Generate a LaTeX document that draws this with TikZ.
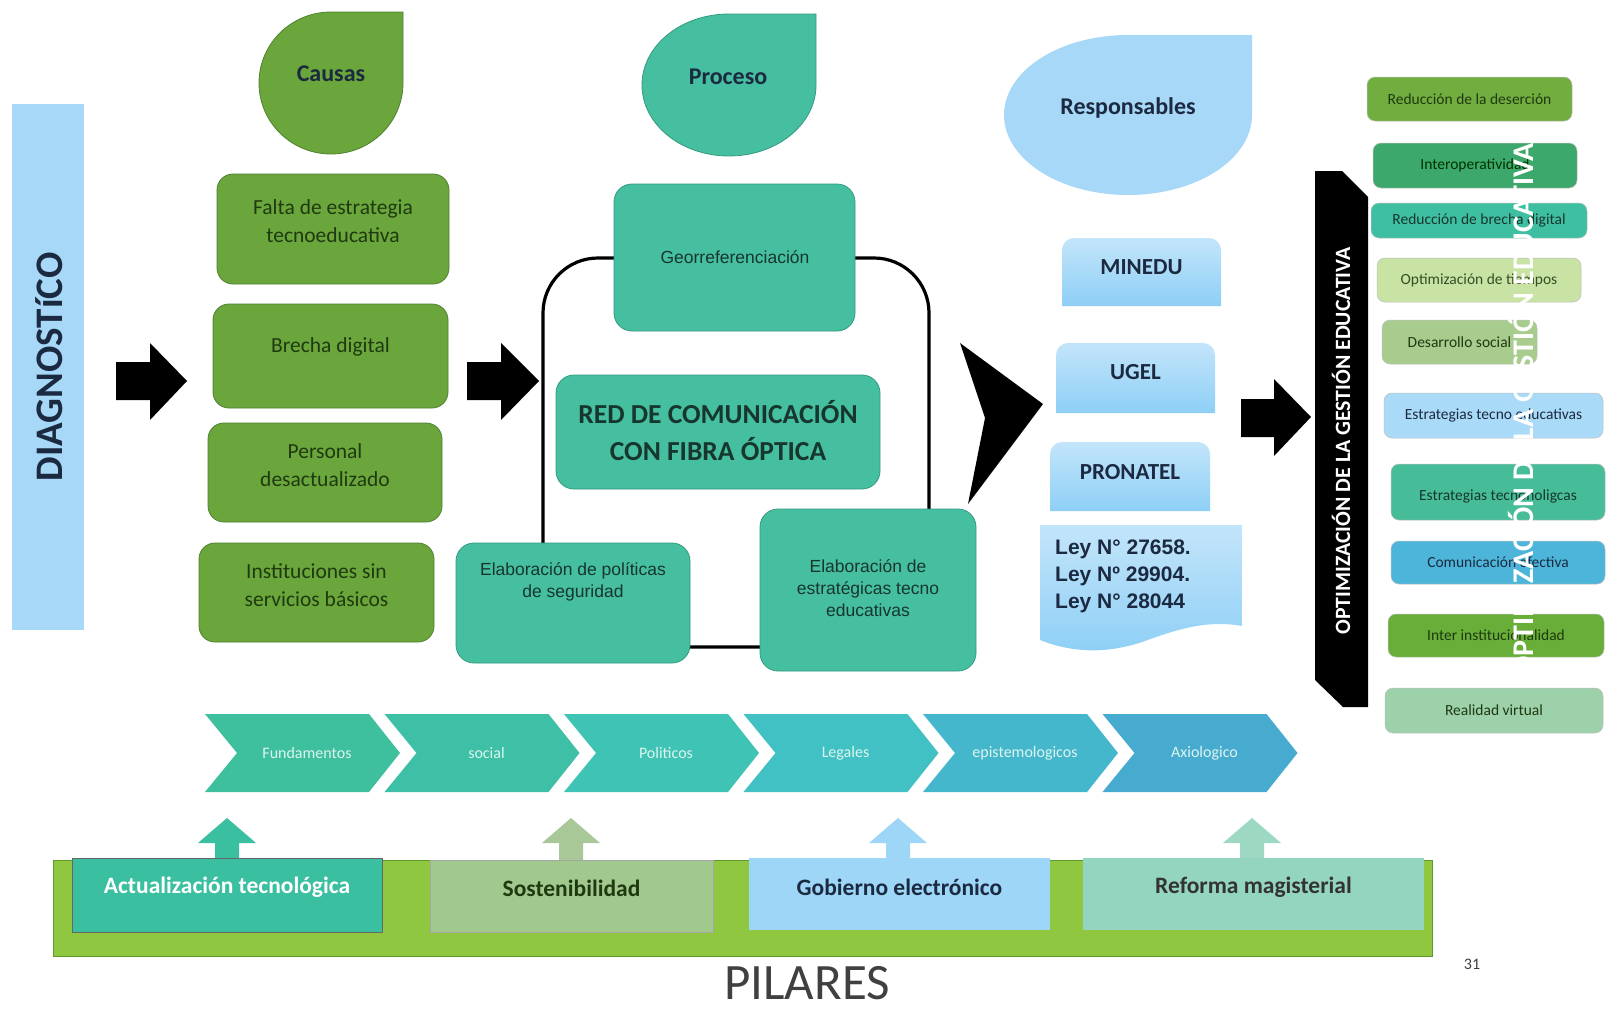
\documentclass[tikz,border=0pt]{standalone}
\usepackage{fontspec}
\setmainfont{Carlito}
\newfontfamily\arialf{Liberation Sans}
\definecolor{causeG}{HTML}{6AA63B}
\definecolor{causeB}{HTML}{4F8030}
\definecolor{causeT}{HTML}{1F3A10}
\definecolor{procG}{HTML}{45BF9F}
\definecolor{procB}{HTML}{329A80}
\definecolor{procT}{HTML}{17362E}
\definecolor{lblue}{HTML}{A7D8F7}
\definecolor{lblueT}{HTML}{C3E5FA}
\definecolor{lblueB}{HTML}{8ECFF6}
\definecolor{navy}{HTML}{1B2A40}
\definecolor{rA}{HTML}{72AD3F}
\definecolor{rB}{HTML}{3DA86C}
\definecolor{rC}{HTML}{3FBFA2}
\definecolor{rD}{HTML}{C8E3A3}
\definecolor{rE}{HTML}{A8CC8E}
\definecolor{rF}{HTML}{A9DAF8}
\definecolor{rG}{HTML}{46BD98}
\definecolor{rH}{HTML}{4DB5DA}
\definecolor{rI}{HTML}{68AE38}
\definecolor{rJ}{HTML}{9CD1AA}
\definecolor{chA}{HTML}{3EBF9E}
\definecolor{chB}{HTML}{3EC0A6}
\definecolor{chC}{HTML}{3FC3B5}
\definecolor{chD}{HTML}{41C1C4}
\definecolor{chE}{HTML}{44B7CD}
\definecolor{chF}{HTML}{47ABCF}
\definecolor{chT}{HTML}{DDF5EE}
\definecolor{band}{HTML}{8FC740}
\definecolor{bandB}{HTML}{5E9A2A}
\definecolor{pA}{HTML}{3BBFA1}
\definecolor{pB}{HTML}{A1C98D}
\definecolor{pC}{HTML}{9DD6F7}
\definecolor{pD}{HTML}{93D5BF}
\definecolor{upB}{HTML}{A8C898}
\definecolor{upD}{HTML}{9CD8C2}
\begin{document}
\begin{tikzpicture}[x=1pt,y=-1pt,
  causebox/.style={draw=causeB, line width=0.8pt, fill=causeG, rounded corners=16pt, inner sep=0pt},
  causetxt/.style={text=causeT, font=\fontsize{21.5}{28.5}\selectfont, align=center},
  procbox/.style={draw=procB, line width=0.8pt, fill=procG, rounded corners=18pt, inner sep=0pt},
  proctxt/.style={text=procT, font=\arialf\fontsize{17.5}{22}\selectfont, align=center},
  headtxt/.style={font=\bfseries\fontsize{24}{28}\selectfont, text=navy},
  blk/.style={fill=black},
  respbox/.style={top color=lblueT, bottom color=lblueB},
  resptxt/.style={font=\bfseries\fontsize{23}{26}\selectfont, text=navy},
  rbox/.style={rounded corners=8pt, inner sep=0pt, draw=black!25, line width=0.5pt},
  rtxt/.style={font=\fontsize{15.5}{17}\selectfont},
  chevtxt/.style={font=\fontsize{16}{18}\selectfont, text=chT},
  pillar/.style={inner sep=0pt, draw=black!35, line width=0.6pt},
  piltxt/.style={font=\bfseries\fontsize{23.5}{25}\selectfont}
]
\useasboundingbox[fill=white] (0,0) rectangle (1606,1009);

% ---------- DIAGNOSTICO ----------
\fill[lblue] (12,104) rectangle (84,630);
\node[rotate=90, text=navy, font=\bfseries\fontsize{39}{40}\selectfont] (diag) at (49,367) {DIAGNOSTíCO};

% ---------- arrows ----------
\path[blk] (116,362) -- (150,362) -- (150,343) -- (187,381) -- (150,420) -- (150,400) -- (116,400) -- cycle;
\path[blk] (467,362) -- (501,362) -- (501,343) -- (539,381) -- (501,420) -- (501,400) -- (467,400) -- cycle;
\path[blk] (960,343) -- (1043,404) -- (968,504) -- (985,418) -- cycle;
\path[blk] (1241,399) -- (1274,399) -- (1274,379) -- (1311,417) -- (1274,456) -- (1274,437) -- (1241,437) -- cycle;

% ---------- Causas ----------
\path[fill=causeG, draw=causeB, line width=0.8pt] (403,83) arc[start angle=0, end angle=270, x radius=72, y radius=71] -- (403,12) -- cycle;
\node[headtxt] (causas) at (331,74) {Causas};
\node[causebox, minimum width=232pt, minimum height=110pt] (c1box) at (333,229) {};
\node[causetxt] (c1) at (333,221) {Falta de estrategia\\tecnoeducativa};
\node[causebox, minimum width=235pt, minimum height=104pt] (c2box) at (330.5,356) {};
\node[causetxt] (c2) at (330.5,347) {Brecha digital};
\node[causebox, minimum width=234pt, minimum height=99pt] (c3box) at (325,472.5) {};
\node[causetxt] (c3) at (325,465) {Personal\\desactualizado};
\node[causebox, minimum width=235pt, minimum height=99pt] (c4box) at (316.5,592.5) {};
\node[causetxt] (c4) at (316.5,585) {Instituciones sin\\servicios básicos};

% ---------- Proceso ----------
\path[fill=procG, draw=procB, line width=0.8pt] (816,85) arc[start angle=0, end angle=270, x radius=87, y radius=71] -- (816,14) -- cycle;
\node[headtxt] (proceso) at (728,77) {Proceso};
\draw[line width=3.2pt, rounded corners=55pt] (543,647) rectangle (929,258);
\node[procbox, minimum width=241pt, minimum height=147pt] (geo) at (734.5,257.5) {};
\node[proctxt] (geot) at (735,257) {Georreferenciación};
\node[procbox, minimum width=324pt, minimum height=114pt] (red) at (718,432) {};
\node[font=\bfseries\fontsize{27.5}{37}\selectfont, text=procT, align=center] (redt) at (718,431) {RED DE COMUNICACIÓN\\CON FIBRA ÓPTICA};
\node[procbox, minimum width=234pt, minimum height=120pt] (pol) at (573,603) {};
\node[proctxt] (polt) at (573,582) {Elaboración de políticas\\de seguridad};
\node[procbox, minimum width=216pt, minimum height=162pt] (est) at (868,590) {};
\node[proctxt] (estt) at (868,588) {Elaboración de\\estratégicas tecno\\educativas};

% ---------- Responsables ----------
\path[fill=lblue] (1252,115) arc[start angle=0, end angle=270, x radius=124, y radius=80] -- (1252,35) -- cycle;
\node[headtxt] (resp) at (1128,108) {Responsables};
\path[respbox] (1062,306) -- (1062,250) arc[start angle=180, end angle=270, radius=12] -- (1209,238) arc[start angle=270, end angle=360, radius=12] -- (1221,306) -- cycle;
\node[resptxt] (minedu) at (1141.5,267) {MINEDU};
\path[respbox] (1056,413) -- (1056,355) arc[start angle=180, end angle=270, radius=12] -- (1203,343) arc[start angle=270, end angle=360, radius=12] -- (1215,413) -- cycle;
\node[resptxt] (ugel) at (1135.5,372) {UGEL};
\path[respbox] (1050,511) -- (1050,454) arc[start angle=180, end angle=270, radius=12] -- (1198,442) arc[start angle=270, end angle=360, radius=12] -- (1210,511) -- cycle;
\node[resptxt] (pronatel) at (1130,472) {PRONATEL};
\path[respbox] (1040,525) -- (1242,525) -- (1242,626) .. controls (1210,620) and (1180,628) .. (1145,641) .. controls (1105,655) and (1070,652) .. (1040,640) -- cycle;
\node[anchor=north west, align=left, inner sep=0pt, font=\arialf\bfseries\fontsize{21}{27}\selectfont, text=navy] (ley) at (1055,540) {Ley N° 27658.\\Ley Nº 29904.\\Ley N° 28044};

% ---------- black bar ----------
\path[blk] (1315,171) -- (1342,171) -- (1368,197) -- (1368,707) -- (1343,707) -- (1315,680) -- cycle;
\node[rotate=90, text=white, font=\bfseries\fontsize{21.8}{22}\selectfont] (opt) at (1341,441) {OPTIMIZACIÓN DE LA GESTIÓN EDUCATIVA};

% ---------- right column ----------
\node[rbox, fill=rA, minimum width=205pt, minimum height=44pt] (r1) at (1469.5,99) {};
\node[rtxt, text=causeT] at (r1) {Reducción de la deserción};
\node[rbox, fill=rB, minimum width=204pt, minimum height=45pt] (r2) at (1475,165.5) {};
\node[rtxt, text=black!80!green] at (r2) {Interoperatividad};
\node[rbox, fill=rC, minimum width=216pt, minimum height=35pt] (r3) at (1479,220.5) {};
\node[rtxt, text=procT] at (r3) {Reducción de brecha digital};
\node[rbox, fill=rD, minimum width=204pt, minimum height=44pt] (r4) at (1479,280) {};
\node[rtxt, text=causeT!90] at (r4) {Optimización de tiempos};
\node[rbox, fill=rE, minimum width=155pt, minimum height=44pt] (r5) at (1459.5,342) {};
\node[rtxt, text=causeT] at (r5) {Desarrollo social};
\node[rbox, fill=rF, minimum width=219pt, minimum height=45pt] (r6) at (1493.5,415.5) {};
\node[rtxt, text=navy] at (r6) {Estrategias tecno educativas};
\node[rbox, fill=rG, minimum width=214pt, minimum height=56pt] (r7) at (1498,492) {};
\node[rtxt, text=procT] at ([yshift=-4pt]r7.center) {Estrategias tecnonoligcas};
\node[rbox, fill=rH, minimum width=214pt, minimum height=43pt] (r8) at (1498,562.5) {};
\node[rtxt, text=navy] at (r8) {Comunicación efectiva};
\node[rbox, fill=rI, minimum width=216pt, minimum height=43pt] (r9) at (1496,635.5) {};
\node[rtxt, text=causeT] at (r9) {Inter institucionalidad};
\node[rbox, fill=rJ, minimum width=218pt, minimum height=45pt] (r10) at (1494,710.5) {};
\node[rtxt, text=causeT] at (r10) {Realidad virtual};

% ---------- chevrons ----------
\foreach \i/\t/\c in {0/Fundamentos/chA, 1/social/chB, 2/Politicos/chC, 3/Legales/chD, 4/epistemologicos/chE, 5/Axiologico/chF}{
  \pgfmathsetmacro\L{205+179.5*\i}
  \path[fill=\c] (\L,714) -- ({\L+164},714) -- ({\L+195},753) -- ({\L+164},792) -- (\L,792) -- ({\L+32},753) -- cycle;
  \node[chevtxt] (chev\i) at ({\L+102},753) {\t};
}

% ---------- pillars ----------
\draw[fill=band, draw=bandB, line width=0.8pt] (53,860) rectangle (1432,956);
\path[fill=pA] (227,818) -- (256,843) -- (239,843) -- (239,860) -- (215,860) -- (215,843) -- (198,843) -- cycle;
\path[fill=upB] (571,818) -- (600,843) -- (583,843) -- (583,860) -- (559,860) -- (559,843) -- (542,843) -- cycle;
\path[fill=pC] (898,818) -- (927,843) -- (910,843) -- (910,860) -- (886,860) -- (886,843) -- (869,843) -- cycle;
\path[fill=upD] (1252,818) -- (1281,843) -- (1264,843) -- (1264,860) -- (1240,860) -- (1240,843) -- (1223,843) -- cycle;
\node[pillar, fill=pA, draw=black!60, minimum width=310pt, minimum height=74pt] (p1) at (227,895) {};
\node[piltxt, text=white] at (227,887) {Actualización tecnológica};
\node[pillar, fill=pB, minimum width=283pt, minimum height=72pt] (p2) at (571.5,896) {};
\node[piltxt, text=causeT] at (571.5,888) {Sostenibilidad};
\node[pillar, fill=pC, draw=none, minimum width=301pt, minimum height=72pt] (p3) at (899.5,894) {};
\node[piltxt, text=navy] at (899.5,887) {Gobierno electrónico};
\node[pillar, fill=pD, draw=none, minimum width=341pt, minimum height=72pt] (p4) at (1253.5,894) {};
\node[piltxt, text=black!80] at (1253.5,887) {Reforma magisterial};
\node[inner sep=0pt, font=\fontsize{51}{52}\selectfont, text=black!75] (pilares) at (807,983) {PILARES};
\node[font=\fontsize{16}{16}\selectfont, text=black!75] (pnum) at (1472,964) {31};

% ---------- white overlay text ----------
\node[rotate=90, text=white, font=\bfseries\fontsize{30}{31}\selectfont] (ovl) at (1521,410) {OPTIMIZACIÓN DE LA GESTIÓN EDUCATIVA};
\end{tikzpicture}
\end{document}
